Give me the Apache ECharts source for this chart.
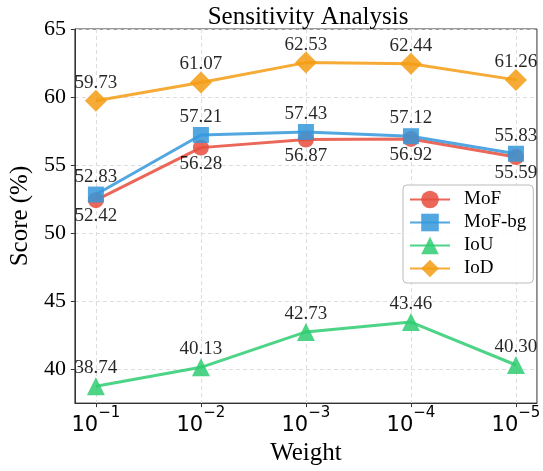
<!DOCTYPE html>
<html>
<head>
<meta charset="utf-8">
<script src="https://cdn.jsdelivr.net/npm/echarts@6/dist/echarts.min.js"></script>
<style>
html,body{margin:0;padding:0;background:#fff;}
#chart{width:543px;height:471px;}
</style>
</head>
<body>
<div id="chart"></div>
<script>
// ---- data ----
var categories = ['1', '2', '3', '4', '5']; // exponents of 10^-n
var mof   = [52.42, 56.28, 56.87, 56.92, 55.59];
var mofBg = [52.83, 57.21, 57.43, 57.12, 55.83];
var iou   = [38.74, 40.13, 42.73, 43.46, 40.30];
var iod   = [59.73, 61.07, 62.53, 62.44, 61.26];
var yTicks = [40, 45, 50, 55, 60, 65];

var SERIF = '"Liberation Serif", "Times New Roman", serif';
var chart = echarts.init(document.getElementById('chart'), null, {renderer: 'canvas'});

function pts(arr) { return arr.map(function (v, i) { return [i, v]; }); }

function mkSeries(name, arr, color, symbol, size, below) {
  return {
    name: name,
    type: 'line',
    data: pts(arr),
    symbol: symbol,
    symbolSize: size,
    showAllSymbol: true,
    lineStyle: {color: color, width: 3, opacity: 0.85},
    itemStyle: {color: color, opacity: 0.85},
    label: {
      show: true,
      position: 'inside',
      offset: [0, below ? 16 : -18],
      fontFamily: SERIF,
      fontSize: 19,
      color: '#000',
      formatter: function (p) { return p.value[1].toFixed(2); }
    },
    emphasis: {disabled: true},
    z: 3
  };
}

var option = {
  animation: false,
  backgroundColor: '#fff',
  title: {
    text: 'Sensitivity Analysis',
    left: 303,
    textAlign: 'center',
    top: 0,
    textStyle: {fontFamily: SERIF, fontSize: 25, fontWeight: 'normal', color: '#000'}
  },
  grid: {left: 67, right: 4, top: 29, bottom: 64, show: true, borderColor: '#333', borderWidth: 1, backgroundColor: 'transparent'},
  legend: {
    orient: 'vertical',
    left: 403,
    top: 185,
    padding: [5, 7, 5, 6],
    itemWidth: 40,
    itemHeight: 22,
    itemGap: 4,
    backgroundColor: 'rgba(255,255,255,0.85)',
    borderColor: '#bbb',
    borderWidth: 1,
    borderRadius: 4,
    textStyle: {fontFamily: SERIF, fontSize: 19, color: '#000', padding: [0, 0, 0, 9]},
    data: ['MoF', 'MoF-bg', 'IoU', 'IoD']
  },
  xAxis: {
    type: 'value',
    min: -0.2,
    max: 4.2,
    name: 'Weight',
    nameLocation: 'middle',
    nameGap: 35,
    nameTextStyle: {fontFamily: SERIF, fontSize: 25, color: '#000'},
    axisLine: {show: true, onZero: false, lineStyle: {color: '#333', width: 1}},
    axisTick: {show: true, customValues: [0, 1, 2, 3, 4], length: 4, lineStyle: {color: '#333'}},
    axisLabel: {
      customValues: [0, 1, 2, 3, 4],
      margin: 3,
      formatter: function (v) { return '{a|10}{b|\u2212' + categories[Math.round(v)] + '}'; },
      rich: {
        a: {fontFamily: '"DejaVu Sans"', fontSize: 21, color: '#000', lineHeight: 30, verticalAlign: 'bottom'},
        b: {fontFamily: '"DejaVu Sans"', fontSize: 15, color: '#000', lineHeight: 16, verticalAlign: 'top'}
      }
    },
    splitLine: {show: true, lineStyle: {color: '#ddd', type: [4, 3], width: 1}}
  },
  yAxis: {
    type: 'value',
    min: 37.5,
    max: 65,
    name: 'Score (%)',
    nameLocation: 'middle',
    nameGap: 38,
    nameTextStyle: {fontFamily: SERIF, fontSize: 25, color: '#000'},
    axisLine: {show: true, onZero: false, lineStyle: {color: '#333', width: 1}},
    axisTick: {show: true, customValues: yTicks, length: 4, lineStyle: {color: '#333'}},
    axisLabel: {customValues: yTicks, margin: 9, fontFamily: SERIF, fontSize: 22, color: '#000'},
    splitLine: {show: true, lineStyle: {color: '#ddd', type: [4, 3], width: 1}}
  },
  series: [
    mkSeries('MoF', mof, '#e74c3c', 'circle', 16, true),
    mkSeries('MoF-bg', mofBg, '#3498db', 'rect', 16, false),
    mkSeries('IoU', iou, '#2ecc71', 'triangle', 18, false),
    mkSeries('IoD', iod, '#f39c12', 'diamond', 22, false)
  ]
};
chart.setOption(option);
</script>
</body>
</html>
